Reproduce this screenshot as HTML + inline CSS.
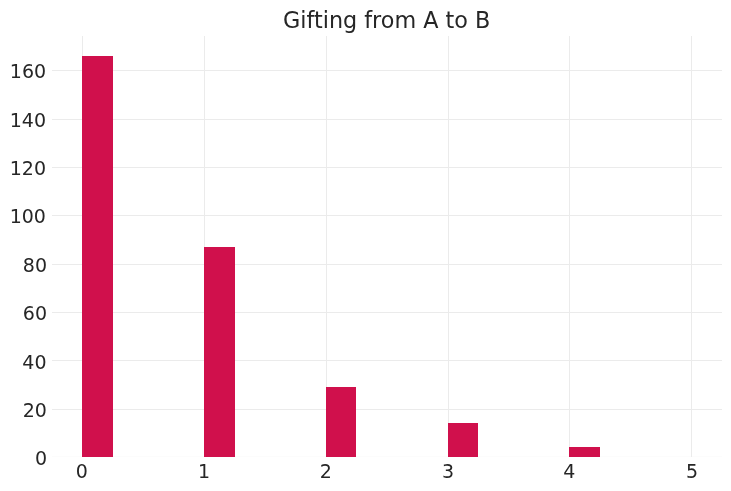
<!DOCTYPE html>
<html><head><meta charset="utf-8"><title>Gifting from A to B</title>
<style>
html,body{margin:0;padding:0;background:#fff;}
body{width:731px;height:491px;overflow:hidden;}
svg{display:block;}
text{font-family:"DejaVu Sans","Liberation Sans",sans-serif;fill:#262626;}
</style></head>
<body>
<svg width="731" height="491" viewBox="0 0 731 491">
<rect x="0" y="0" width="731" height="491" fill="#ffffff"/>
<rect x="52" y="456" width="670" height="1" fill="#fcfcfc"/>
<g fill="#ebebeb" shape-rendering="crispEdges">
<rect x="52" y="409" width="670" height="1"/>
<rect x="52" y="360" width="670" height="1"/>
<rect x="52" y="312" width="670" height="1"/>
<rect x="52" y="264" width="670" height="1"/>
<rect x="52" y="215" width="670" height="1"/>
<rect x="52" y="167" width="670" height="1"/>
<rect x="52" y="119" width="670" height="1"/>
<rect x="52" y="70" width="670" height="1"/>
<rect x="82" y="36" width="1" height="421"/>
<rect x="204" y="36" width="1" height="421"/>
<rect x="326" y="36" width="1" height="421"/>
<rect x="448" y="36" width="1" height="421"/>
<rect x="569" y="36" width="1" height="421"/>
<rect x="691" y="36" width="1" height="421"/>
</g>
<g fill="#d0104c" shape-rendering="crispEdges">
<rect x="82" y="56" width="31" height="401"/>
<rect x="204" y="247" width="31" height="210"/>
<rect x="326" y="387" width="30" height="70"/>
<rect x="448" y="423" width="30" height="34"/>
<rect x="569" y="447" width="31" height="10"/>
</g>
<g font-size="19">
<text x="47.15" y="464.83" text-anchor="end">0</text>
<text x="46.90" y="416.73" text-anchor="end">20</text>
<text x="46.50" y="368.78" text-anchor="end">40</text>
<text x="47.00" y="319.83" text-anchor="end">60</text>
<text x="47.00" y="271.83" text-anchor="end">80</text>
<text x="45.95" y="222.68" text-anchor="end">100</text>
<text x="46.00" y="174.73" text-anchor="end">120</text>
<text x="46.00" y="126.83" text-anchor="end">140</text>
<text x="46.10" y="77.83" text-anchor="end">160</text>
<text x="81.80" y="477.7" text-anchor="middle">0</text>
<text x="204.10" y="477.7" text-anchor="middle">1</text>
<text x="325.90" y="477.7" text-anchor="middle">2</text>
<text x="448.00" y="477.7" text-anchor="middle">3</text>
<text x="569.35" y="477.7" text-anchor="middle">4</text>
<text x="691.95" y="477.7" text-anchor="middle">5</text>
</g>
<text x="386.7" y="28" text-anchor="middle" font-size="22.3">Gifting from A to B</text>
</svg>
</body></html>
